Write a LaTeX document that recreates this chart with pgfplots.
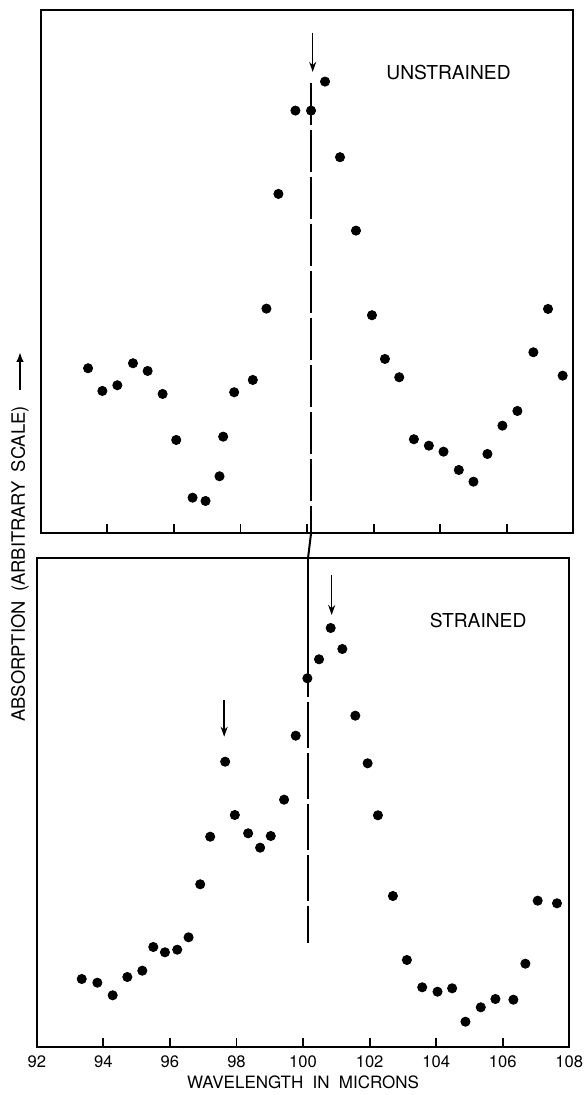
\documentclass[border=0pt]{standalone}
\usepackage{fontspec}
\setmainfont{TeX Gyre Heros}
\usepackage{pgfplots}
\pgfplotsset{compat=1.18}
\usetikzlibrary{arrows.meta}

% values in pixels above each panel's base line
\pgfplotstableread{
x y
93.42 165
93.85 142.3
94.30 148
94.77 170
95.21 162.3
95.66 139.3
96.07 93.3
96.56 35.6
96.95 32.3
97.37 57
97.48 96.6
97.81 141
98.37 153.3
98.78 224.6
99.14 339.3
99.65 422.6
100.12 422.6
100.54 451.6
100.99 376
101.47 302.6
101.95 218
102.34 174.3
102.77 156
103.21 94
103.66 87.6
104.10 81.6
104.56 63.3
105.00 51.6
105.42 79.3
105.87 107.6
106.32 122.3
106.80 181
107.24 224.3
107.68 157.6
}\unstrained

\pgfplotstableread{
x y
93.35 68
93.82 64.3
94.28 51.7
94.72 70
95.17 76.3
95.50 100
95.85 94.7
96.22 97.3
96.56 109.7
96.91 162.7
97.21 210.3
97.66 285.3
97.95 232
98.35 213.7
98.71 199.3
99.03 211
99.43 247.3
99.78 311.3
100.13 368.7
100.48 387.7
100.83 419
101.18 398
101.57 331.3
101.94 283.7
102.25 231.7
102.70 151
103.12 87
103.58 59.7
104.04 55.3
104.48 58.7
104.88 25.3
105.34 39.7
105.78 48
106.32 47.3
106.68 83.3
107.05 146.3
107.63 143.7
}\strained

\pgfplotsset{
  panel/.style={
    scale only axis,
    width=266.25pt,
    xmin=92, xmax=108,
    xtick={92,94,...,108},
    xtick pos=left,
    ytick=\empty,
    major tick length=4.5pt,
    tick style={line width=0.9pt, black},
    axis line style={line width=1.1pt},
    /pgf/number format/assume math mode=true,
  },
  dots/.style={only marks, mark=*, mark size=2.3pt, black},
}

\begin{document}
\begin{tikzpicture}
\useasboundingbox (-18.4pt,-24pt) rectangle (274.6pt,523.5pt);

% upper panel
\begin{axis}[panel, name=top, at={(2pt,256.85pt)}, anchor=south west,
  height=261.65pt, ymin=0, ymax=523.3, xticklabels={}]
  \addplot[dots] table {\unstrained};
  \draw[line width=1pt, dash pattern=on 21pt off 2.5pt]
    (axis cs:100.12,450.3) -- (axis cs:100.12,0);
  \draw[line width=0.75pt, -{Stealth[length=5pt,width=3.5pt]}]
    (axis cs:100.17,500.3) -- (axis cs:100.17,461.3);
  \node[font=\fontsize{9.6}{11}\selectfont] at (axis cs:104.25,460.6) {UNSTRAINED};
  \coordinate (ltop) at (axis cs:100.12,0);
\end{axis}

% lower panel
\begin{axis}[panel, name=bot, at={(0pt,0pt)}, anchor=south west,
  height=244.5pt, ymin=0, ymax=489,
  xticklabel style={font=\fontsize{8.3}{10}\selectfont, yshift=-1pt},
  xlabel={WAVELENGTH\hspace{0.55em}IN\hspace{0.55em}MICRONS},
  xlabel style={font=\fontsize{8.5}{10}\selectfont, yshift=3pt}]
  \addplot[dots] table {\strained};
  \draw[line width=1pt] (axis cs:100.15,489) -- (axis cs:100.15,396);
  \draw[line width=1pt, dash pattern=on 23pt off 2.5pt]
    (axis cs:100.15,396) -- (axis cs:100.15,103.7);
  \draw[line width=0.75pt, -{Stealth[length=5pt,width=3.5pt]}]
    (axis cs:97.63,347) -- (axis cs:97.63,310.3);
  \draw[line width=0.75pt, -{Stealth[length=5pt,width=3.5pt]}]
    (axis cs:100.86,472) -- (axis cs:100.86,432);
  \node[font=\fontsize{9.6}{11}\selectfont] at (axis cs:105.26,426.7) {STRAINED};
  \coordinate (lbot) at (axis cs:100.15,489);
\end{axis}

\draw[line width=1pt] (ltop) -- (lbot);

% shared vertical label with its arrow
\node[rotate=90, font=\fontsize{9.2}{11}\selectfont] (yl) at (-8.4pt,241.5pt)
  {ABSORPTION\hspace{0.5em}(ARBITRARY\hspace{0.5em}SCALE)};
\draw[line width=1.1pt, -{Latex[length=5pt,width=3.8pt]}] (-8.4pt,328.5pt) -- (-8.4pt,347.5pt);
\end{tikzpicture}
\end{document}
